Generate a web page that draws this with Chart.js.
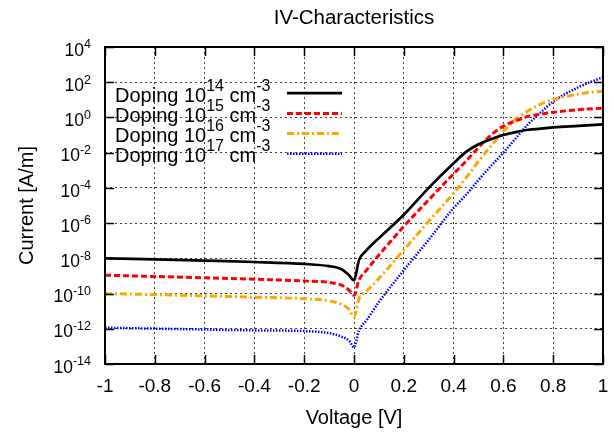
<!DOCTYPE html>
<html>
<head>
<meta charset="utf-8">
<script src="https://cdn.jsdelivr.net/npm/chart.js@4.4.1/dist/chart.umd.min.js"></script>
<style>
  html, body { margin: 0; padding: 0; background: #fff; }
  canvas { display: block; }
</style>
</head>
<body>
<canvas id="ivChart" width="614" height="433"></canvas>
<script>
// voltage points (V)
const voltage = [-1, -0.8, -0.6, -0.4, -0.2, -0.1, -0.05, -0.02, 0, 0.02, 0.05, 0.1, 0.2, 0.3, 0.4, 0.45, 0.5, 0.55, 0.6, 0.65, 0.7, 0.75, 0.8, 0.9, 1];

// current (A/m)
const doping14 = [1.0e-8, 8.7e-9, 7.4e-9, 6.2e-9, 4.8e-9, 3.6e-9, 2.4e-9, 1.1e-9, 5.5e-10, 7.9e-9, 2.8e-8, 1.4e-7, 3.0e-6, 1.0e-4, 2.5e-3, 1.1e-2, 3.0e-2, 5.8e-2, 0.10, 0.148, 0.20, 0.23, 0.27, 0.33, 0.40];
const doping15 = [1.1e-9, 9.3e-10, 7.9e-10, 6.5e-10, 5.2e-10, 4.3e-10, 3.0e-10, 1.55e-10, 7.9e-11, 5.8e-10, 2.1e-9, 1.55e-8, 6.5e-7, 2.1e-5, 6.3e-4, 3.3e-3, 1.95e-2, 0.10, 0.32, 0.65, 1.15, 1.55, 1.95, 2.75, 3.4];
const doping16 = [1.0e-10, 8.7e-11, 7.4e-11, 6.2e-11, 5.1e-11, 3.8e-11, 2.45e-11, 1.26e-11, 4.7e-12, 5.1e-11, 1.35e-10, 7.2e-10, 3.0e-8, 1.26e-6, 5.0e-5, 3.7e-4, 3.3e-3, 2.4e-2, 0.166, 0.79, 2.4, 5.75, 10.2, 21.4, 30.9];
const doping17 = [1.15e-12, 1.02e-12, 9.1e-13, 8.1e-13, 7.4e-13, 5.6e-13, 3.6e-13, 2.1e-13, 8.9e-14, 7.9e-13, 3.0e-12, 3.3e-11, 2.1e-9, 1.12e-7, 7.2e-6, 4.0e-5, 2.8e-4, 1.74e-3, 1.0e-2, 6.6e-2, 0.42, 1.95, 7.9, 51, 195];

const seriesExp = ["14", "15", "16", "17"];
const xTicks = [-1, -0.8, -0.6, -0.4, -0.2, 0, 0.2, 0.4, 0.6, 0.8, 1];
const yTickExp = [-14, -12, -10, -8, -6, -4, -2, 0, 2, 4];

const FONT = "'Liberation Sans', Arial, sans-serif";

function pts(ys) {
  return voltage.map(function(v, i) { return { x: v, y: ys[i] }; });
}

const styles = [
  { color: '#000000', dash: [], width: 2.7 },
  { color: '#ff0000', dash: [6, 3], width: 3 },
  { color: '#ffa500', dash: [7, 3, 2, 3], width: 3 },
  { color: '#0000ff', dash: [1.5, 1.5], width: 2.5 }
];

const allSeries = [doping14, doping15, doping16, doping17];

const datasets = allSeries.map(function(s, i) {
  return {
    label: 'Doping 10^' + seriesExp[i] + ' cm^-3',
    data: pts(s),
    borderColor: styles[i].color,
    borderDash: styles[i].dash,
    borderWidth: styles[i].width,
    pointRadius: 0,
    fill: false,
    cubicInterpolationMode: 'monotone'
  };
});

// gnuplot-like frame, ticks, labels, legend and title
const gnuFrame = {
  id: 'gnuFrame',
  afterDraw: function(chart) {
    const ctx = chart.ctx;
    const a = chart.chartArea;
    const xs = chart.scales.x, ys = chart.scales.y;
    ctx.save();

    // inward ticks
    ctx.strokeStyle = '#000';
    ctx.lineWidth = 1.5;
    ctx.setLineDash([]);
    ctx.beginPath();
    xTicks.forEach(function(t) {
      const px = Math.round(xs.getPixelForValue(t)) + 0.5;
      ctx.moveTo(px, a.bottom); ctx.lineTo(px, a.bottom - 9);
      ctx.moveTo(px, a.top); ctx.lineTo(px, a.top + 9);
    });
    yTickExp.forEach(function(e) {
      const py = Math.round(ys.getPixelForValue(Math.pow(10, e))) + 0.5;
      ctx.moveTo(a.left, py); ctx.lineTo(a.left + 9, py);
      ctx.moveTo(a.right, py); ctx.lineTo(a.right - 9, py);
    });
    ctx.stroke();

    // border
    ctx.lineWidth = 2;
    ctx.strokeRect(a.left, a.top, a.right - a.left, a.bottom - a.top);

    // y tick labels 10^n
    ctx.fillStyle = '#000';
    ctx.textBaseline = 'alphabetic';
    ctx.textAlign = 'left';
    yTickExp.forEach(function(e) {
      const py = ys.getPixelForValue(Math.pow(10, e));
      ctx.font = '12.5px ' + FONT;
      const es = String(e);
      const we = ctx.measureText(es).width;
      ctx.font = '17.5px ' + FONT;
      const wb = ctx.measureText('10').width;
      const x0 = 91 - we - wb;
      ctx.fillText('10', x0, py + 8.7);
      ctx.font = '12.5px ' + FONT;
      ctx.fillText(es, x0 + wb, py + 1.3);
    });

    // legend
    chart.data.datasets.forEach(function(ds, i) {
      const base = 101.7 + i * 20.2;
      let x = 115;
      ctx.font = '20px ' + FONT;
      ctx.fillStyle = '#000';
      ctx.fillText('Doping 10', x, base);
      x += ctx.measureText('Doping 10').width;
      ctx.font = '16px ' + FONT;
      ctx.fillText(seriesExp[i], x, base - 11);
      x += ctx.measureText(seriesExp[i]).width;
      ctx.font = '20px ' + FONT;
      ctx.fillText(' cm', x, base);
      x += ctx.measureText(' cm').width;
      ctx.font = '16px ' + FONT;
      ctx.fillText('-3', x, base - 11);

      ctx.strokeStyle = ds.borderColor;
      ctx.lineWidth = ds.borderWidth;
      ctx.setLineDash(ds.borderDash);
      ctx.beginPath();
      ctx.moveTo(287, base - 8.5);
      ctx.lineTo(342, base - 8.5);
      ctx.stroke();
    });

    // title
    ctx.setLineDash([]);
    ctx.font = '20.5px ' + FONT;
    ctx.textAlign = 'center';
    ctx.fillStyle = '#000';
    ctx.fillText('IV-Characteristics', (a.left + a.right) / 2, 24);
    ctx.restore();
  }
};

const gridStyle = {
  color: 'rgba(0,0,0,0.75)',
  lineWidth: 1,
  drawTicks: false
};

new Chart(document.getElementById('ivChart'), {
  type: 'line',
  data: { datasets: datasets },
  plugins: [gnuFrame],
  options: {
    responsive: false,
    animation: false,
    layout: { padding: { left: 0, right: 11, top: 47, bottom: 0 } },
    plugins: {
      legend: { display: false },
      title: { display: false },
      tooltip: { enabled: false }
    },
    scales: {
      x: {
        type: 'linear',
        min: -1,
        max: 1,
        afterBuildTicks: function(scale) {
          scale.ticks = xTicks.map(function(v) { return { value: v }; });
        },
        afterFit: function(scale) {
          scale.height = 69;
          scale.paddingLeft = 0;
          scale.paddingRight = 0;
        },
        ticks: {
          autoSkip: false,
          maxRotation: 0,
          padding: 11,
          color: '#000',
          font: { family: FONT, size: 19 },
          callback: function(v) { return String(Number(v.toFixed(1))); }
        },
        grid: gridStyle,
        border: { display: false, dash: [2, 3] },
        title: {
          display: true,
          text: 'Voltage [V]',
          color: '#000',
          font: { family: FONT, size: 20 },
          padding: { top: 0, bottom: 3 }
        }
      },
      y: {
        type: 'logarithmic',
        min: 1e-14,
        max: 1e4,
        afterBuildTicks: function(scale) {
          scale.ticks = yTickExp.map(function(e) { return { value: Math.pow(10, e) }; });
        },
        afterFit: function(scale) {
          scale.width = 105;
          scale.paddingTop = 0;
          scale.paddingBottom = 0;
        },
        ticks: { display: false },
        grid: gridStyle,
        border: { display: false, dash: [2, 3] },
        title: {
          display: true,
          text: 'Current [A/m]',
          color: '#000',
          font: { family: FONT, size: 20 },
          padding: { top: 15, bottom: 0 }
        }
      }
    }
  }
});
</script>
</body>
</html>
